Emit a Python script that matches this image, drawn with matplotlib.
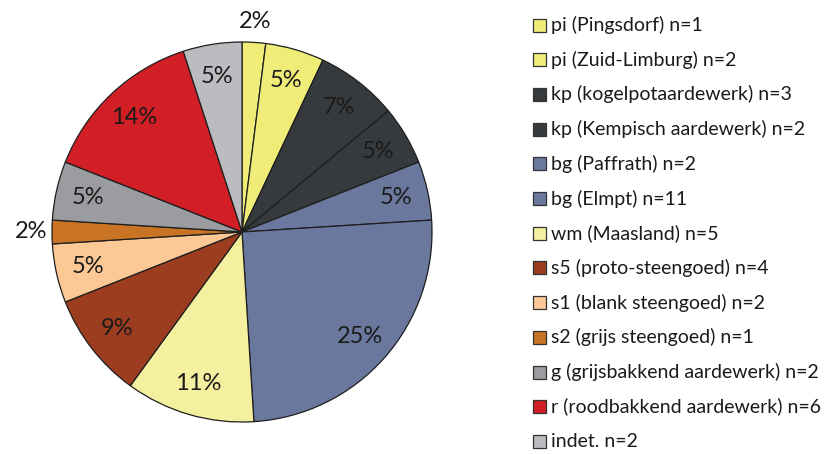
import matplotlib.pyplot as plt
from matplotlib.patches import Rectangle
import numpy as np

# aardewerk-categorieën, aantallen (n) en aandelen in procent
categorieen = ['pi (Pingsdorf)', 'pi (Zuid-Limburg)', 'kp (kogelpotaardewerk)',
               'kp (Kempisch aardewerk)', 'bg (Paffrath)', 'bg (Elmpt)',
               'wm (Maasland)', 's5 (proto-steengoed)', 's1 (blank steengoed)',
               's2 (grijs steengoed)', 'g (grijsbakkend aardewerk)',
               'r (roodbakkend aardewerk)', 'indet.']
aantallen = [1, 2, 3, 2, 2, 11, 5, 4, 2, 1, 2, 6, 2]
procenten = [2, 5, 7, 5, 5, 25, 11, 9, 5, 2, 5, 14, 5]
kleuren = ['#F0EC78', '#F0EC78', '#373A3D', '#373A3D', '#6A789E', '#6A789E',
           '#F4F0A0', '#9C3D20', '#FCC996', '#C97424', '#9A9CA0', '#D21F26',
           '#BBBCC0']

plt.rcParams['font.family'] = ['Lato', 'DejaVu Sans']

W, H = 830, 454
fig = plt.figure(figsize=(W / 100, H / 100), dpi=100)
ax = fig.add_axes([42 / W, 22 / H, 400 / W, 400 / H])

wedges, _ = ax.pie(procenten, colors=kleuren, startangle=90, counterclock=False,
                   radius=1.0,
                   wedgeprops=dict(edgecolor='#1e1e1e', linewidth=0.9))
ax.set_xlim(-1.0526, 1.0526)
ax.set_ylim(-1.0526, 1.0526)
ax.set_aspect('equal')
ax.axis('off')

# percentages in de taartpunten, kleine punten erbuiten
for w, p in zip(wedges, procenten):
    hoek = np.deg2rad((w.theta1 + w.theta2) / 2)
    r = 1.11 if p <= 2 else 0.83
    ax.text(r * np.cos(hoek), r * np.sin(hoek), f'{p}%',
            ha='center', va='center', fontsize=17, color='#1a1a1a')

# legenda rechts, per regel een vierkantje met tekst
y0, dy = 25, 34.7
for i, (c, n, kl) in enumerate(zip(categorieen, aantallen, kleuren)):
    y = y0 + i * dy
    fig.add_artist(Rectangle(((532.5) / W, 1 - (y + 6.5) / H), 13 / W, 13 / H,
                             transform=fig.transFigure, facecolor=kl,
                             edgecolor='#333333', linewidth=0.9))
    fig.text(550.5 / W, 1 - y / H, f'{c} n={n}', ha='left', va='center',
             fontsize=14, color='#1a1a1a')

fig.savefig('out.png', dpi=100, facecolor='white')
